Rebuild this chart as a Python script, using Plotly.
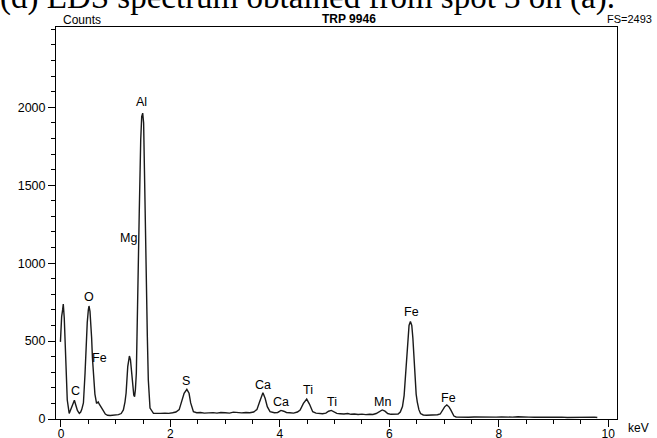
import plotly.graph_objects as go

# ---- spectrum readings (keV, counts) ----
kev = [
    -0.01, 0.00, 0.012, 0.03, 0.042, 0.06, 0.085, 0.115, 0.15, 0.19,
    0.22, 0.245, 0.27, 0.30, 0.335, 0.36, 0.38, 0.41, 0.44, 0.457,
    0.48, 0.50, 0.512, 0.53, 0.545, 0.56, 0.575, 0.59, 0.62, 0.65,
    0.68, 0.70, 0.73, 0.77, 0.81, 0.85, 0.90, 0.95, 1.00, 1.05,
    1.10, 1.14, 1.17, 1.19, 1.22, 1.25, 1.27, 1.30, 1.33, 1.345,
    1.36, 1.377, 1.395, 1.414, 1.43, 1.457, 1.475, 1.493, 1.51, 1.525,
    1.536, 1.554, 1.578, 1.596, 1.627, 1.69, 1.75, 1.82, 1.90, 1.97,
    2.04, 2.10, 2.16, 2.206, 2.25, 2.30, 2.34, 2.37, 2.42, 2.48,
    2.55, 2.62, 2.70, 2.78, 2.85, 2.92, 3.00, 3.08, 3.15, 3.22,
    3.30, 3.38, 3.45, 3.52, 3.58, 3.63, 3.69, 3.73, 3.77, 3.82,
    3.90, 3.96, 4.02, 4.07, 4.12, 4.18, 4.25, 4.32, 4.37, 4.43,
    4.49, 4.54, 4.60, 4.66, 4.72, 4.78, 4.84, 4.89, 4.94, 4.99,
    5.04, 5.10, 5.17, 5.24, 5.30, 5.36, 5.43, 5.50, 5.57, 5.64,
    5.70, 5.76, 5.82, 5.87, 5.92, 5.97, 6.03, 6.10, 6.16, 6.20,
    6.24, 6.27, 6.30, 6.32, 6.34, 6.36, 6.385, 6.41, 6.43, 6.45,
    6.47, 6.49, 6.51, 6.54, 6.57, 6.62, 6.68, 6.75, 6.82, 6.88,
    6.93, 6.97, 7.01, 7.05, 7.09, 7.12, 7.15, 7.18, 7.22, 7.27,
    7.35, 7.45, 7.55, 7.65, 7.75, 7.85, 7.95, 8.05, 8.15, 8.25,
    8.35, 8.45, 8.55, 8.65, 8.75, 8.85, 8.95, 9.05, 9.15, 9.25,
    9.35, 9.45, 9.55, 9.65, 9.75, 9.80,
]
counts = [
    495, 600, 657, 700, 738, 648, 360, 122, 36, 70,
    100, 120, 90, 55, 36, 45, 62, 103, 295, 464,
    620, 700, 725, 690, 620, 520, 390, 300, 160, 100,
    110, 95, 75, 55, 32, 24, 22, 24, 26, 28,
    35, 58, 110, 167, 336, 404, 379, 250, 154, 143,
    190, 295, 571, 978, 1320, 1791, 1940, 1962, 1900, 1600,
    1320, 978, 528, 250, 70, 36, 34, 36, 38, 36,
    40, 45, 60, 111, 165, 190, 165, 103, 47, 40,
    42, 38, 40, 41, 38, 42, 40, 38, 44, 40,
    39, 42, 40, 45, 60, 111, 169, 133, 79, 47,
    40, 42, 55, 50, 42, 40, 38, 45, 58, 100,
    128, 96, 47, 38, 36, 34, 38, 50, 55, 45,
    36, 34, 32, 35, 30, 32, 29, 31, 28, 30,
    29, 35, 50, 58, 50, 35, 30, 29, 32, 45,
    80, 150, 300, 420, 530, 600, 625, 600, 520, 400,
    260, 160, 110, 60, 35, 26, 24, 25, 24, 27,
    32, 55, 78, 90, 78, 60, 35, 19, 13, 12,
    14, 11, 13, 12, 14, 11, 12, 13, 11, 12,
    14, 11, 12, 11, 12, 10, 12, 11, 12, 10,
    11, 12, 10, 11, 12, 10,
]

# ---- element labels ----
label_text = ["O", "Fe", "C", "Mg", "Al", "S", "Ca", "Ca", "Ti", "Ti", "Mn", "Fe", "Fe"]
label_kev = [0.52, 0.70, 0.27, 1.24, 1.48, 2.29, 3.69, 4.02, 4.51, 4.95, 5.87, 6.40, 7.09]
label_counts = [783, 392, 180, 1162, 2035, 244, 221, 109, 186, 112, 108, 684, 132]

x_ticks = [0, 2, 4, 6, 8, 10]
y_ticks = [0, 500, 1000, 1500, 2000]

W, H = 657, 438
L, R, T, B = 56, 40, 27, 19
PW, PH = W - L - R, H - T - B


def px(x):
    return (x - L) / PW


def py(y):
    return (H - B - y) / PH


SANS = "Liberation Sans, Arial, sans-serif"

fig = go.Figure()
fig.add_trace(go.Scatter(x=kev, y=counts, mode="lines",
                         line=dict(color="#1a1a1a", width=1.4),
                         hoverinfo="skip", showlegend=False))

for t, xv, yv in zip(label_text, label_kev, label_counts):
    fig.add_annotation(x=xv, y=yv, text=t, showarrow=False,
                       xanchor="center", yanchor="middle",
                       font=dict(family=SANS, size=12.5, color="black"))

# header texts
fig.add_annotation(xref="paper", yref="paper", x=px(61), y=py(20), text="Counts",
                   showarrow=False, xanchor="left", yanchor="middle",
                   font=dict(family=SANS, size=12, color="black"))
fig.add_annotation(xref="paper", yref="paper", x=px(349), y=py(19), text="<b>TRP 9946</b>",
                   showarrow=False, xanchor="center", yanchor="middle",
                   font=dict(family=SANS, size=12, color="black"))
fig.add_annotation(xref="paper", yref="paper", x=px(654), y=py(19), text="FS=2493",
                   showarrow=False, xanchor="right", yanchor="middle",
                   font=dict(family=SANS, size=11, color="black"))
fig.add_annotation(xref="paper", yref="paper", x=px(626), y=py(428), text="keV",
                   showarrow=False, xanchor="left", yanchor="middle",
                   font=dict(family=SANS, size=12, color="black"))
# cropped caption at the very top
fig.add_annotation(xref="paper", yref="paper", x=px(-2), y=py(-3), text="(d) EDS spectrum obtained from spot 3 on (a).",
                   showarrow=False, xanchor="left", yanchor="middle",
                   font=dict(family="Liberation Serif, Times New Roman, serif", size=33, color="black"))

fig.update_xaxes(range=[-0.091, 10.16], tickmode="array", tickvals=x_ticks,
                 ticktext=[str(v) for v in x_ticks], automargin=False,
                 ticks="outside", ticklen=7, tickcolor="black", tickwidth=1,
                 ticklabelstandoff=-3,
                 minor=dict(tick0=0, dtick=0.5, ticks="outside", ticklen=4,
                            tickcolor="black", tickwidth=1),
                 showline=True, linecolor="black", linewidth=1, mirror=True,
                 showgrid=False, zeroline=False,
                 tickfont=dict(family=SANS, size=12, color="black"))
fig.update_yaxes(range=[0, 2515], tickmode="array", tickvals=y_ticks,
                 ticktext=[str(v) for v in y_ticks], automargin=False,
                 ticks="outside", ticklen=7, tickcolor="black", tickwidth=1,
                 minor=dict(tick0=0, dtick=100, ticks="outside", ticklen=4,
                            tickcolor="black", tickwidth=1),
                 showline=True, linecolor="black", linewidth=1, mirror=True,
                 showgrid=False, zeroline=False,
                 tickfont=dict(family=SANS, size=12.5, color="black"))

fig.update_layout(width=W, height=H, autosize=False, template="none",
                  margin=dict(l=L, r=R, t=T, b=B, pad=0),
                  paper_bgcolor="white", plot_bgcolor="white",
                  showlegend=False)

fig.write_html("out.html", config={"displayModeBar": False, "staticPlot": True},
               post_script="document.body.style.margin='0';document.body.style.overflow='hidden';")
